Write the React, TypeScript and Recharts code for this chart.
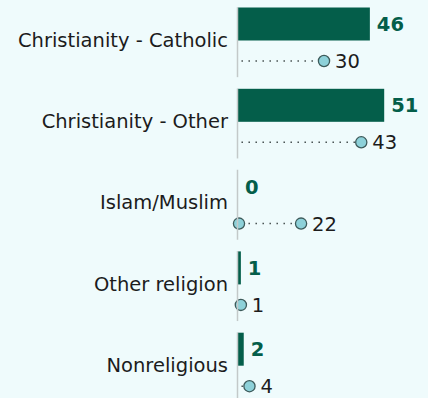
import { Bar, BarChart, LabelList, XAxis, YAxis } from "recharts";

const categories = [
  "Christianity - Catholic",
  "Christianity - Other",
  "Islam/Muslim",
  "Other religion",
  "Nonreligious",
];
const sampleShare = [46, 51, 0, 1, 2];
const comparisonShare = [30, 43, 22, 1, 4];

const FONT = "'DejaVu Sans', sans-serif";
const GREEN = "#045e4a";
const BG = "#effbfc";

const data = categories.map((name, i) => ({
  name,
  sample: sampleShare[i],
  comparison: comparisonShare[i],
}));

function CategoryTick({ x, y, payload }: { x?: number; y?: number; payload?: { value: string } }) {
  const cx = x ?? 0;
  const cy = y ?? 0;
  return (
    <g>
      <line x1={cx + 9.5} x2={cx + 9.5} y1={cy - 35} y2={cy + 35} stroke="#c3c9c9" strokeWidth={1.5} />
      <text x={cx} y={cy + 4.5} textAnchor="end" fill="#1c1c1c" fontSize={19.5} fontFamily={FONT}>
        {payload?.value}
      </text>
    </g>
  );
}

type ShapeProps = {
  x?: number;
  y?: number;
  width?: number;
  height?: number;
  payload?: { sample: number; comparison: number };
};

// bar plus its bold value label (drawn here so a zero still gets its "0")
function SampleShape(props: ShapeProps) {
  const x = props.x ?? 0;
  const w = props.width ?? 0;
  const y = props.y ?? 0;
  const h = props.height ?? 0;
  return (
    <g>
      {w > 0 && <rect x={x} y={y} width={w} height={h} fill={GREEN} />}
      <text
        x={x + w + 7}
        y={y + h / 2 + 7}
        fill={GREEN}
        fontSize={19.5}
        fontWeight={700}
        fontFamily={FONT}
      >
        {props.payload?.sample}
      </text>
    </g>
  );
}

// dotted leader from zero to the comparison value, ending in a circle
function DotShape(props: ShapeProps) {
  const x = props.x ?? 0;
  const w = props.width ?? 0;
  const cy = (props.y ?? 0) + (props.height ?? 0) / 2;
  const startsAtZero = props.payload?.sample === 0;
  return (
    <g>
      {w > 8 && (
        <line
          x1={x + 3.5}
          x2={x + w - 5}
          y1={cy}
          y2={cy}
          stroke="#3a4444"
          strokeWidth={1.5}
          strokeDasharray="1.4 5.6"
        />
      )}
      {startsAtZero && <circle cx={x + 1} cy={cy} r={5.6} fill="#8dd1d9" stroke="#3c5a5a" strokeWidth={1.3} />}
      <circle cx={x + w} cy={cy} r={5.6} fill="#8dd1d9" stroke="#3c5a5a" strokeWidth={1.3} />
    </g>
  );
}

export default function App() {
  return (
    <div
      style={{
        position: "fixed",
        left: 0,
        top: 0,
        width: 428,
        height: 398,
        overflow: "hidden",
        background: BG,
      }}
    >
      <BarChart
        width={428}
        height={408}
        data={data}
        layout="vertical"
        barSize={33}
        barGap={4}
        margin={{ top: 1.5, right: 18, bottom: 0, left: 0 }}
      >
        <XAxis type="number" domain={[0, 60]} hide />
        <YAxis
          type="category"
          dataKey="name"
          width={238}
          axisLine={false}
          tickLine={false}
          tickSize={0}
          tickMargin={10}
          tick={<CategoryTick />}
        />
        <Bar dataKey="sample" shape={<SampleShape />} isAnimationActive={false} />
        <Bar dataKey="comparison" shape={<DotShape />} isAnimationActive={false}>
          <LabelList
            dataKey="comparison"
            position="right"
            offset={11}
            fill="#1c1c1c"
            fontSize={19.5}
            fontFamily={FONT}
          />
        </Bar>
      </BarChart>
    </div>
  );
}
